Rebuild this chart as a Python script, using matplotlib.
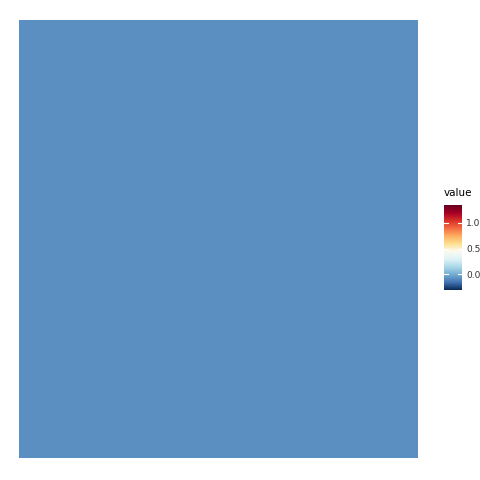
import numpy as np
import matplotlib
matplotlib.use('Agg')
import matplotlib.pyplot as plt
from matplotlib.colors import LinearSegmentedColormap, Normalize

# datos
x_cats = ['a']
y_cats = ['a']
valores = [[-0.08]]
vmin, vmax = -0.30, 1.34
ticks = [0.0, 0.5, 1.0]

paleta = ['#0a2b55', '#4575b4', '#74add1', '#abd9e9', '#e0f3f8', '#fbfbf0',
          '#fee090', '#fdae61', '#f46d43', '#d73027', '#a50026', '#67001f']
cmap = LinearSegmentedColormap.from_list('paleta', paleta)
norm = Normalize(vmin=vmin, vmax=vmax)

fig = plt.figure(figsize=(4.8, 4.8), dpi=100)
ax = fig.add_axes([19/480, 22/480, 399/480, 438/480])
ax.pcolormesh(np.arange(len(x_cats) + 1), np.arange(len(y_cats) + 1),
              np.array(valores), cmap=cmap, norm=norm)
ax.set_axis_off()

# barra de color
cax = fig.add_axes([444/480, 190/480, 18/480, 85/480])
grad = np.linspace(vmin, vmax, 256).reshape(-1, 1)
cax.imshow(grad, aspect='auto', origin='lower', cmap=cmap, norm=norm,
           extent=[0, 1, vmin, vmax])
cax.set_xlim(0, 1)
cax.set_ylim(vmin, vmax)
for t in ticks:
    cax.plot([0, 0.2], [t, t], color='white', lw=0.8)
    cax.plot([0.8, 1], [t, t], color='white', lw=0.8)
cax.set_xticks([])
cax.yaxis.tick_right()
cax.set_yticks(ticks)
cax.set_yticklabels([f'{t:.1f}' for t in ticks], fontsize=6.5, color='#333333')
cax.tick_params(axis='y', length=0, pad=3)
for s in cax.spines.values():
    s.set_visible(False)
fig.text(444/480, 1 - 198/480, 'value', fontsize=7.5, ha='left', va='bottom')

fig.savefig('out.png', dpi=100)
